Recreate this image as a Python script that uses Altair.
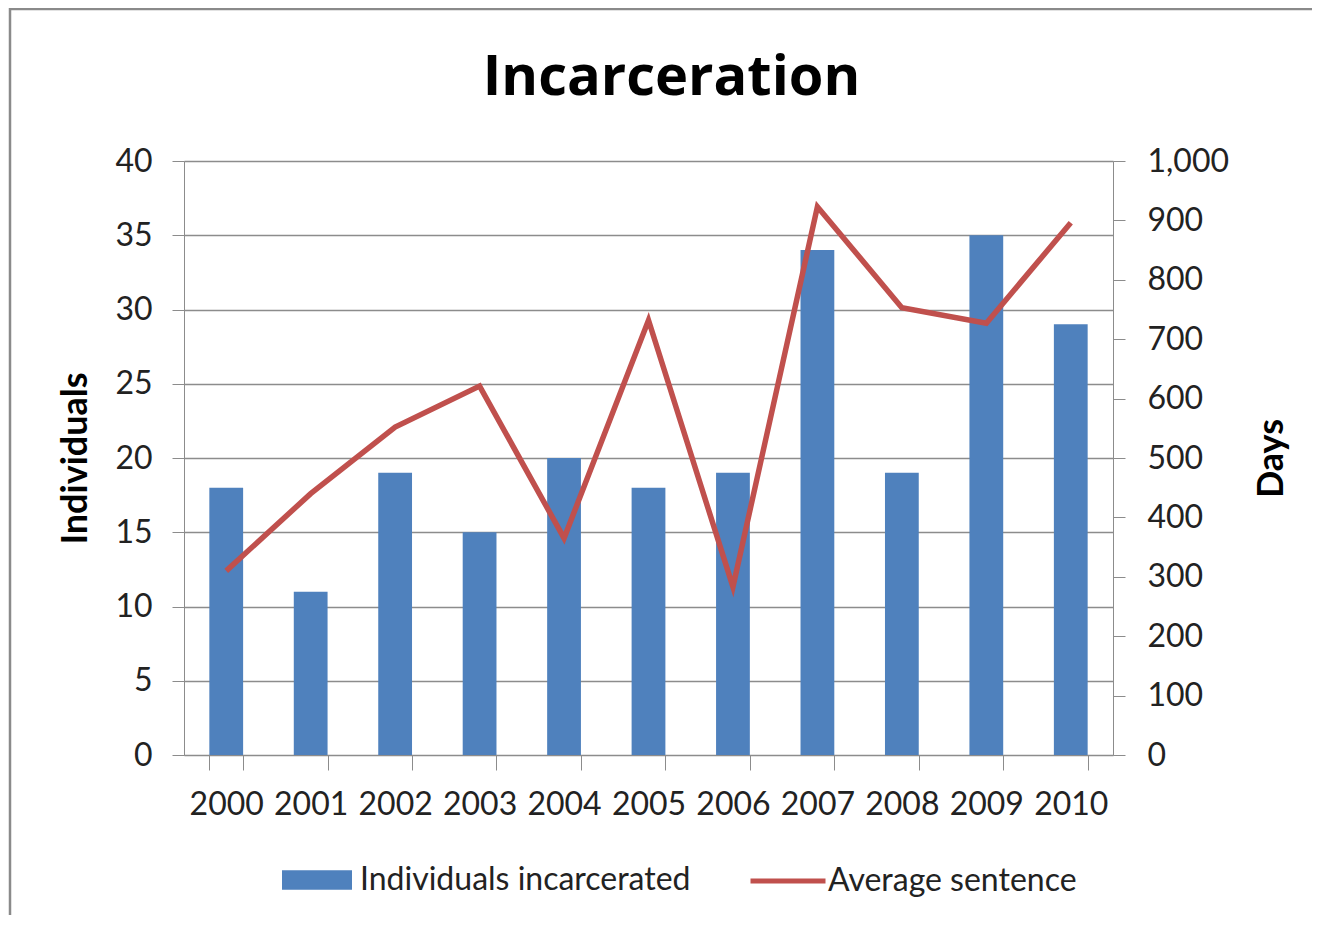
import altair as alt
import pandas as pd

years = ["2000", "2001", "2002", "2003", "2004", "2005", "2006", "2007", "2008", "2009", "2010"]
individuals = [18, 11, 19, 15, 20, 18, 19, 34, 19, 35, 29]
sentence = [310, 440, 552, 621, 365, 732, 283, 923, 753, 727, 896]
left_ticks = [0, 5, 10, 15, 20, 25, 30, 35, 40]
right_ticks = [0, 100, 200, 300, 400, 500, 600, 700, 800, 900, 1000]

df = pd.DataFrame({
    "year": years,
    "individuals": individuals,
    "sentence": sentence,
    "s1": ["Individuals incarcerated"] * len(years),
    "s2": ["Average sentence"] * len(years),
})

FONT = "Lato"
GRAY = "#8c8c8c"
BLUE = "#4F81BD"
RED = "#C0504D"

xenc = alt.X(
    "year:N",
    sort=years,
    scale=alt.Scale(paddingInner=0.6, paddingOuter=0.3),
    axis=alt.Axis(
        title=None, labelAngle=0, tickBand="extent", tickSize=15,
        tickColor=GRAY, domainColor=GRAY, labelFontSize=32, labelPadding=19,
        labelColor="#222", labelFont=FONT, grid=False,
    ),
)

bars = alt.Chart(df).mark_bar().encode(
    x=xenc,
    y=alt.Y(
        "individuals:Q",
        scale=alt.Scale(domain=[0, 40], nice=False),
        axis=alt.Axis(
            title="Individuals", values=left_ticks, tickSize=12, tickColor=GRAY,
            domainColor=GRAY, grid=True, gridColor=GRAY, gridWidth=1.3,
            labelFontSize=32, labelPadding=20, labelColor="#222", labelFont=FONT,
            titleFont=FONT, titleFontSize=36, titleFontWeight="bold",
            titleColor="#000", titlePadding=20,
        ),
    ),
    fill=alt.Fill(
        "s1:N",
        scale=alt.Scale(domain=["Individuals incarcerated"], range=[BLUE]),
        legend=alt.Legend(
            title=None, orient="none", legendX=98, legendY=684,
            symbolType="M-1,-0.28H1V0.28H-1Z", symbolSize=4900,
            symbolStrokeWidth=0, labelFontSize=32, labelFont=FONT,
            labelColor="#222", labelOffset=8, labelLimit=0,
        ),
    ),
)

line = alt.Chart(df).mark_line(strokeWidth=5.5).encode(
    x=xenc,
    y=alt.Y(
        "sentence:Q",
        scale=alt.Scale(domain=[0, 1000], nice=False),
        axis=alt.Axis(
            title="Days", orient="right", values=right_ticks, format=",.0f",
            tickSize=12, tickColor=GRAY, domainColor=GRAY, grid=False,
            labelFontSize=32, labelPadding=22, labelColor="#222", labelFont=FONT,
            titleFont=FONT, titleFontSize=36, titleFontWeight="bold",
            titleColor="#000", titlePadding=26, titleAngle=270,
            titleBaseline="top",
        ),
    ),
    stroke=alt.Stroke(
        "s2:N",
        scale=alt.Scale(domain=["Average sentence"], range=[RED]),
        legend=alt.Legend(
            title=None, orient="none", legendX=564, legendY=680,
            symbolType="stroke", symbolSize=5625, symbolStrokeWidth=5,
            labelFontSize=32, labelFont=FONT, labelColor="#222", labelOffset=0,
            labelLimit=0,
        ),
    ),
)

frame = alt.Chart(pd.DataFrame({"a": [0]})).mark_rect(
    fill=None, stroke="#8a8a8a", strokeWidth=2.5
).encode(
    x=alt.value(-174), x2=alt.value(1200), y=alt.value(-152), y2=alt.value(800)
)

chart = alt.layer(frame, bars, line).resolve_scale(
    y="independent", fill="independent", stroke="independent"
).properties(
    width=929,
    height=594,
    autosize=alt.AutoSizeParams(type="none"),
    padding={"left": 176, "top": 153, "right": 199, "bottom": 160},
    title=alt.TitleParams(
        "Incarceration", fontSize=56, font="Open Sans", fontWeight="bold",
        color="#000", anchor="middle", dx=23, offset=-99,
    ),
).configure_view(stroke=None).configure(background="white")

chart.save("out.html", embed_options={"renderer": "svg", "actions": False})
